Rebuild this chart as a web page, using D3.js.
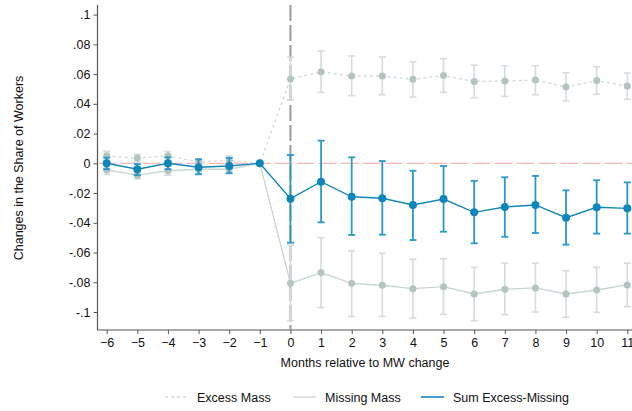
<!DOCTYPE html>
<html>
<head>
<meta charset="utf-8">
<script src="https://cdn.jsdelivr.net/npm/d3@7"></script>
<style>
  html, body { margin: 0; padding: 0; background: #fff; }
  svg { display: block; font-family: "Liberation Sans", Arial, sans-serif; }
</style>
</head>
<body>
<svg id="chart" width="632" height="411"></svg>
<script>
// Event-study estimates: months relative to minimum-wage change
const months = [-6, -5, -4, -3, -2, -1, 0, 1, 2, 3, 4, 5, 6, 7, 8, 9, 10, 11];

const excessEst = [0.005, 0.0035, 0.005, 0.001, 0.002, 0, 0.0567, 0.0615, 0.0587, 0.0587, 0.0565, 0.059, 0.055, 0.0553, 0.056, 0.0513, 0.0556, 0.052];
const excessLo  = [0.002, 0.001, 0.002, -0.002, -0.001, 0, 0.0426, 0.0477, 0.0455, 0.0461, 0.0446, 0.0477, 0.0441, 0.045, 0.0461, 0.0419, 0.0464, 0.043];
const excessHi  = [0.008, 0.006, 0.008, 0.003, 0.005, 0, 0.0713, 0.0755, 0.0722, 0.0715, 0.0683, 0.0703, 0.0659, 0.0656, 0.0656, 0.0609, 0.0648, 0.0607];

const missingEst = [-0.0045, -0.008, -0.005, -0.004, -0.004, 0, -0.0807, -0.0735, -0.0807, -0.082, -0.0843, -0.083, -0.0879, -0.0847, -0.0838, -0.0879, -0.0852, -0.0818];
const missingLo  = [-0.0075, -0.0105, -0.008, -0.0065, -0.0065, 0, -0.106, -0.097, -0.103, -0.103, -0.104, -0.1016, -0.1058, -0.1018, -0.100, -0.1036, -0.1002, -0.0964];
const missingHi  = [-0.0015, -0.0055, -0.002, -0.0015, -0.0015, 0, -0.055, -0.050, -0.0588, -0.0605, -0.0646, -0.0641, -0.070, -0.0672, -0.0672, -0.0722, -0.070, -0.0672];

const sumEst = [0, -0.004, 0, -0.0027, -0.0018, 0, -0.0238, -0.0124, -0.0225, -0.0235, -0.028, -0.024, -0.033, -0.0294, -0.028, -0.0366, -0.0296, -0.0303];
const sumLo  = [-0.004, -0.008, -0.004, -0.0074, -0.0067, 0, -0.0534, -0.0397, -0.0482, -0.048, -0.0516, -0.046, -0.0538, -0.0494, -0.0469, -0.0547, -0.0473, -0.0473];
const sumHi  = [0.0038, -0.0005, 0.004, 0.0027, 0.0036, 0, 0.0056, 0.0152, 0.004, 0.0015, -0.005, -0.0018, -0.0119, -0.0094, -0.0085, -0.0182, -0.0114, -0.0128];

const yTicks = [0.1, 0.08, 0.06, 0.04, 0.02, 0, -0.02, -0.04, -0.06, -0.08, -0.1];
const yTickLabels = [".1", ".08", ".06", ".04", ".02", "0", "-.02", "-.04", "-.06", "-.08", "-.1"];

const seriesNames = ["Excess Mass", "Missing Mass", "Sum Excess-Missing"];

const svg = d3.select("#chart");
const plotLeft = 97.5, plotTop = 5, plotBottom = 330, plotRight = 632;

const x = d3.scaleLinear().domain([-6, 11]).range([106.7, 627.3]);
const y = d3.scaleLinear().domain([-0.1, 0.1]).range([312, 14.6]);

// Axes
const yAxis = d3.axisLeft(y).tickValues(yTicks)
  .tickFormat((d, i) => yTickLabels[i]).tickSize(4).tickPadding(3);
const gy = svg.append("g").attr("transform", `translate(${plotLeft},0)`).call(yAxis);
gy.select(".domain").attr("d", `M0,${plotTop}V${plotBottom}`);

const xAxis = d3.axisBottom(x).tickValues(months).tickSize(4).tickPadding(4)
  .tickFormat(d3.format("d"));
const gx = svg.append("g").attr("transform", `translate(0,${plotBottom})`).call(xAxis);
gx.select(".domain").attr("d", `M${plotLeft},0H${plotRight}`);

[gx, gy].forEach(g => {
  g.selectAll(".domain").attr("stroke", "#555").attr("stroke-width", 1.2);
  g.selectAll(".tick line").attr("stroke", "#555");
  g.selectAll(".tick text").attr("fill", "#111").attr("font-size", 12.5);
});

// Axis titles
svg.append("text").attr("x", 365).attr("y", 367).attr("text-anchor", "middle")
  .attr("font-size", 12.5).attr("fill", "#111").text("Months relative to MW change");
svg.append("text").attr("transform", "translate(23,168) rotate(-90)")
  .attr("text-anchor", "middle").attr("font-size", 12.5).attr("fill", "#111")
  .text("Changes in the Share of Workers");

// Reference lines
svg.append("line").attr("x1", plotLeft + 1).attr("x2", plotRight)
  .attr("y1", y(0)).attr("y2", y(0))
  .attr("stroke", "#f6b9b5").attr("stroke-width", 1.3).attr("stroke-dasharray", "18,4");

svg.append("line").attr("x1", x(0)).attr("x2", x(0))
  .attr("y1", plotTop).attr("y2", plotBottom)
  .attr("stroke", "#9a9a9a").attr("stroke-width", 2).attr("stroke-dasharray", "16,4");

function drawSeries(est, lo, hi, opts) {
  const g = svg.append("g");
  const line = d3.line().x((d, i) => x(months[i])).y(d => y(d));
  // confidence intervals with caps
  months.forEach((m, i) => {
    if (lo[i] === hi[i]) return;
    g.append("line").attr("x1", x(m)).attr("x2", x(m)).attr("y1", y(lo[i])).attr("y2", y(hi[i]))
      .attr("stroke", opts.ci).attr("stroke-width", opts.ciWidth);
    [lo[i], hi[i]].forEach(v => {
      g.append("line").attr("x1", x(m) - 3.5).attr("x2", x(m) + 3.5).attr("y1", y(v)).attr("y2", y(v))
        .attr("stroke", opts.ci).attr("stroke-width", opts.ciWidth);
    });
  });
  g.append("path").datum(est).attr("d", line).attr("fill", "none")
    .attr("stroke", opts.line).attr("stroke-width", opts.lineWidth)
    .attr("stroke-dasharray", opts.dash || null);
  g.selectAll("circle").data(est).join("circle")
    .attr("cx", (d, i) => x(months[i])).attr("cy", d => y(d))
    .attr("r", opts.r).attr("fill", opts.marker);
}

drawSeries(excessEst, excessLo, excessHi, {
  ci: "#d3ddd9", ciWidth: 1.6, line: "#cfd9d5", lineWidth: 1.3, dash: "3,3",
  marker: "#b3c5bd", r: 3.5
});
drawSeries(missingEst, missingLo, missingHi, {
  ci: "#d3ddd9", ciWidth: 1.6, line: "#c9d5d0", lineWidth: 1.3,
  marker: "#b3c5bd", r: 3.5
});
drawSeries(sumEst, sumLo, sumHi, {
  ci: "#2a98c8", ciWidth: 1.8, line: "#1187bb", lineWidth: 1.4,
  marker: "#0e86ba", r: 4
});

// Legend
const legend = [
  { name: seriesNames[0], x1: 165, color: "#cfd9d5", dash: "3,3", w: 1.3 },
  { name: seriesNames[1], x1: 293, color: "#c9d5d0", dash: null, w: 1.3 },
  { name: seriesNames[2], x1: 421, color: "#1187bb", dash: null, w: 1.6 }
];
const lg = svg.append("g");
legend.forEach(l => {
  lg.append("line").attr("x1", l.x1).attr("x2", l.x1 + 23).attr("y1", 397).attr("y2", 397)
    .attr("stroke", l.color).attr("stroke-width", l.w).attr("stroke-dasharray", l.dash);
  lg.append("text").attr("x", l.x1 + 32).attr("y", 401.5).attr("font-size", 12.5)
    .attr("fill", "#111").text(l.name);
});
</script>
</body>
</html>
